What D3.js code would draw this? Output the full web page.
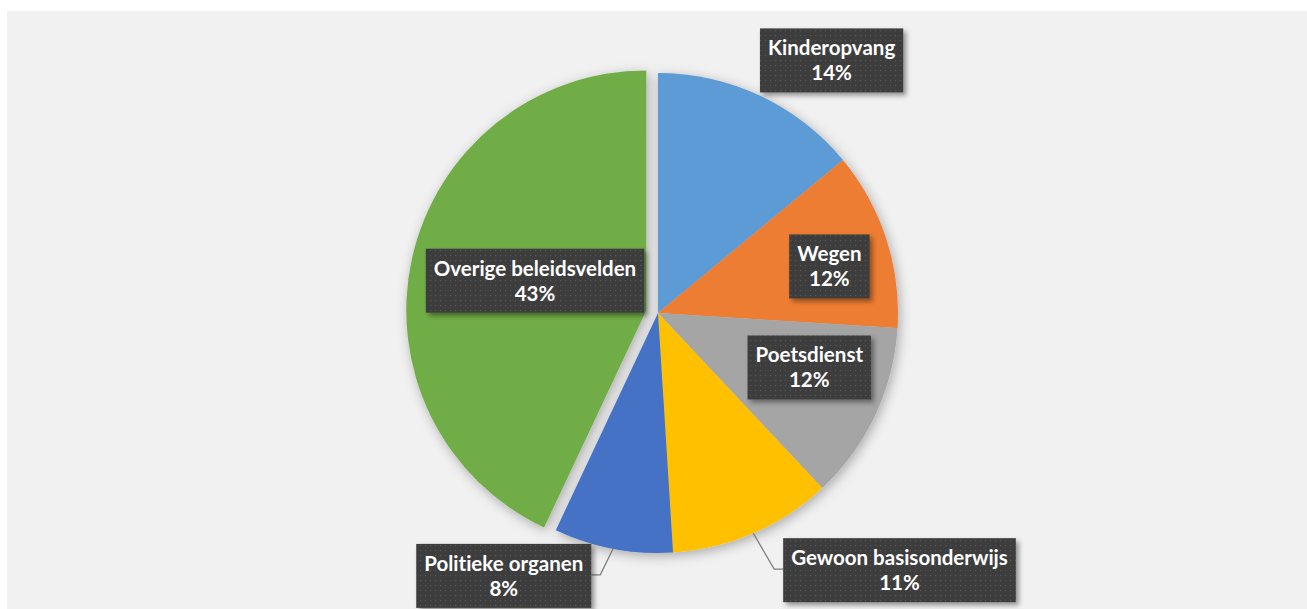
<!DOCTYPE html>
<html>
<head>
<meta charset="utf-8">
<script src="https://cdn.jsdelivr.net/npm/d3@7"></script>
<style>
  body { margin: 0; background: #ffffff; }
  svg { display: block; }
  text { font-variant-ligatures: none; }
</style>
</head>
<body>
<svg id="chart" width="1307" height="609"></svg>
<script>
// data
var categories = ["Kinderopvang", "Wegen", "Poetsdienst", "Gewoon basisonderwijs", "Politieke organen", "Overige beleidsvelden"];
var values = [14, 12, 12, 11, 8, 43];
var colors = ["#5B9BD5", "#ED7D31", "#A5A5A5", "#FFC000", "#4472C4", "#70AD47"];

// layout of the data labels (radius as fraction of pie radius, angle in degrees from top)
var labelRadius = [1.277, 0.74, 0.67, 1.47, 1.27, 0.53];
var labelAngle = [34.5, 74.8, 109.8, 136.8, 210.4, 284.7];
var leader = [false, false, false, true, true, false];
var explode = [0, 0, 0, 0, 0, 12];

var svg = d3.select("#chart"),
  width = +svg.attr("width"),
  height = +svg.attr("height");

var cx = 658, cy = 313, radius = 240;

svg.append("rect")
  .attr("x", 7).attr("y", 11)
  .attr("width", width).attr("height", height)
  .attr("fill", "#f1f1f1");

var defs = svg.append("defs");

var sh = defs.append("filter").attr("id", "pieShadow")
  .attr("x", "-20%").attr("y", "-20%").attr("width", "140%").attr("height", "140%");
sh.append("feDropShadow").attr("dx", 2).attr("dy", 3)
  .attr("stdDeviation", 6).attr("flood-color", "#000").attr("flood-opacity", 0.3);

var bs = defs.append("filter").attr("id", "boxShadow")
  .attr("x", "-10%").attr("y", "-20%").attr("width", "130%").attr("height", "150%");
bs.append("feDropShadow").attr("dx", 3).attr("dy", 3)
  .attr("stdDeviation", 2.5).attr("flood-color", "#000").attr("flood-opacity", 0.4);

var pat = defs.append("pattern").attr("id", "dots")
  .attr("width", 5).attr("height", 5).attr("patternUnits", "userSpaceOnUse");
pat.append("rect").attr("width", 5).attr("height", 5).attr("fill", "#3d3d3d");
pat.append("rect").attr("x", 2).attr("y", 2).attr("width", 1.2).attr("height", 1.2).attr("fill", "#565656");

var pie = d3.pie().sort(null).value(function(d) { return d; });
var arcs = pie(values);

var arc = d3.arc().innerRadius(0).outerRadius(radius);

var g = svg.append("g")
  .attr("transform", "translate(" + cx + "," + cy + ")");

var slices = g.append("g").attr("filter", "url(#pieShadow)");

slices.selectAll("path")
  .data(arcs)
  .enter()
  .append("path")
  .attr("transform", function(d, i) {
    var a = (d.startAngle + d.endAngle) / 2;
    return "translate(" + (Math.sin(a) * explode[i]) + "," + (-Math.cos(a) * explode[i]) + ")";
  })
  .attr("fill", function(d, i) { return colors[i]; })
  .attr("d", arc);

function polar(r, a) {
  return [Math.sin(a) * r, -Math.cos(a) * r];
}

var boxH = 64, padX = 8, fontSize = "20.5px";

var labels = g.selectAll("g.lbl")
  .data(arcs)
  .enter()
  .append("g")
  .attr("class", "lbl");

labels.each(function(d, i) {
  var lg = d3.select(this);
  var p = polar(radius * labelRadius[i], labelAngle[i] * Math.PI / 180);

  var t1 = lg.append("text")
    .attr("x", p[0]).attr("y", p[1] - 5)
    .attr("text-anchor", "middle")
    .attr("font-family", "Lato, 'Open Sans', sans-serif")
    .attr("font-weight", "bold")
    .attr("font-size", fontSize)
    .attr("fill", "#ffffff")
    .text(categories[i]);
  var w = t1.node().getComputedTextLength() + padX * 2;

  var pct = Math.round(d.value / d3.sum(values) * 100) + "%";

  if (leader[i]) {
    var a = (d.startAngle + d.endAngle) / 2;
    var s = polar(radius, a);
    var left = p[0] > 0;
    var ex = left ? p[0] - w / 2 : p[0] + w / 2;
    var elbowX = left ? ex - 9 : ex + 9;
    lg.insert("path", "text")
      .attr("d", "M" + s[0] + "," + s[1] + "L" + elbowX + "," + (p[1] - 1) + "L" + ex + "," + (p[1] - 1))
      .attr("fill", "none")
      .attr("stroke", "#7f7f7f")
      .attr("stroke-width", 1.3);
  }

  lg.insert("rect", "text")
    .attr("x", p[0] - w / 2).attr("y", p[1] - boxH / 2)
    .attr("width", w).attr("height", boxH)
    .attr("fill", "url(#dots)")
    .attr("filter", "url(#boxShadow)");

  lg.append("text")
    .attr("x", p[0]).attr("y", p[1] + 20)
    .attr("text-anchor", "middle")
    .attr("font-family", "Lato, 'Open Sans', sans-serif")
    .attr("font-weight", "bold")
    .attr("font-size", fontSize)
    .attr("fill", "#ffffff")
    .text(pct);
});
</script>
</body>
</html>
